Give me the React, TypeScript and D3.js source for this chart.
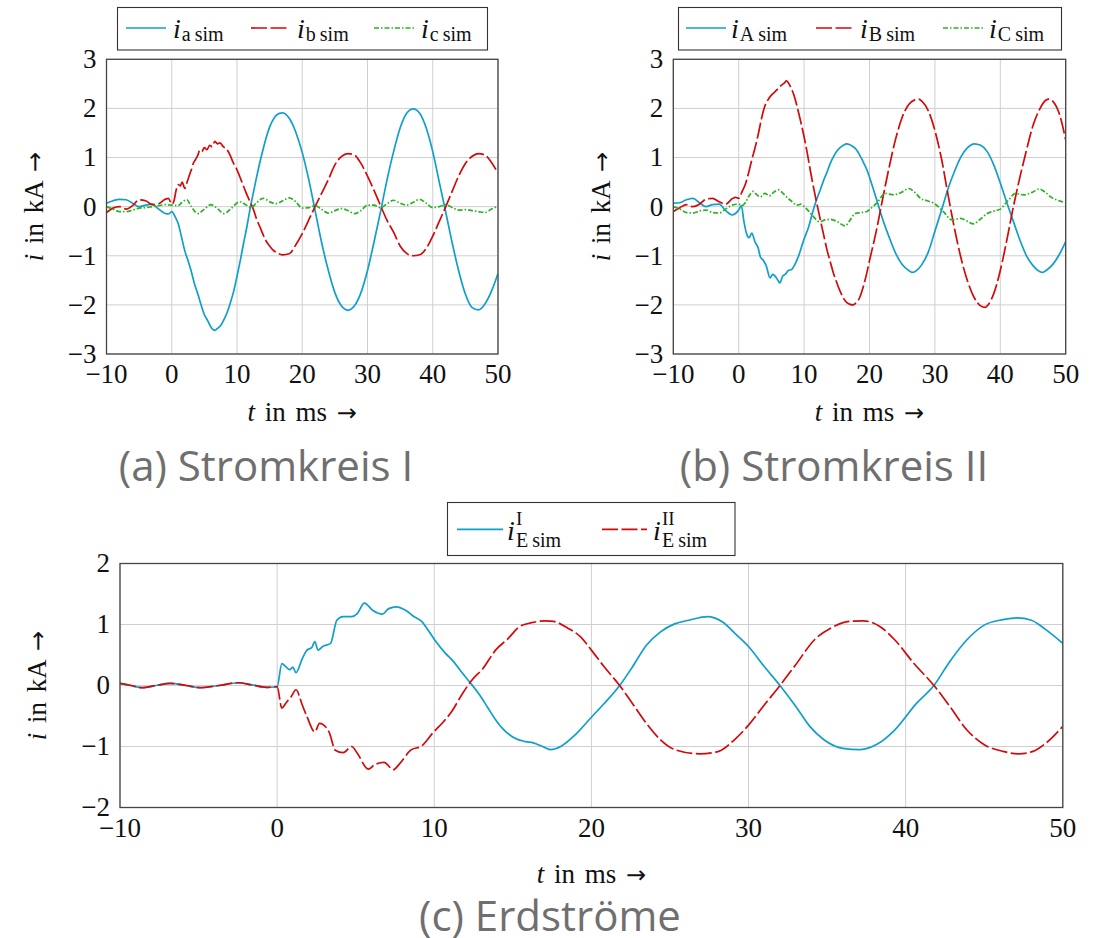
import React from 'react';
import * as d3 from 'd3';

type Pt = [number, number];

// ---------- tick values ----------
const xTicks = [-10, 0, 10, 20, 30, 40, 50];
const yTicksAB = [-3, -2, -1, 0, 1, 2, 3];
const yTicksC = [-2, -1, 0, 1, 2];

// ---------- (a) Stromkreis I ----------
const iaSim: Pt[] = [
  [-10, 0.07], [-9, 0.12], [-8, 0.15], [-7, 0.14], [-6, 0.07], [-5, 0.0], [-4, 0.03], [-3, 0.05],
  [-2, -0.05], [-1, -0.14], [-0.5, -0.15], [0, -0.1], [0.5, -0.2], [1, -0.35], [1.5, -0.62], [2, -0.9],
  [2.5, -1.1], [3, -1.32], [3.5, -1.58], [4, -1.78], [4.5, -2.0], [5, -2.2], [5.5, -2.32], [6, -2.45],
  [6.3, -2.5], [6.6, -2.52], [7, -2.48], [7.5, -2.42], [8, -2.3], [8.5, -2.15], [9, -1.95], [9.5, -1.72],
  [10, -1.42], [10.5, -1.1], [11, -0.75], [11.5, -0.42], [12, -0.05], [12.5, 0.28], [13, 0.6], [13.5, 0.9],
  [14, 1.17], [14.5, 1.42], [15, 1.62], [15.5, 1.76], [16, 1.86], [16.5, 1.9], [17, 1.91], [17.5, 1.88],
  [18, 1.8], [18.5, 1.68], [19, 1.52], [20, 1.1], [21, 0.55], [22, -0.1], [23, -0.75], [24, -1.3],
  [25, -1.75], [26, -2.02], [27, -2.11], [28, -2.02], [29, -1.75], [30, -1.3], [31, -0.72], [32, -0.1],
  [33, 0.55], [34, 1.12], [35, 1.6], [36, 1.9], [37, 1.99], [38, 1.9], [39, 1.6], [40, 1.12],
  [41, 0.5], [42, -0.12], [43, -0.75], [44, -1.32], [45, -1.78], [46, -2.05], [47, -2.1], [48, -1.98],
  [49, -1.72], [50, -1.36],
];
const ibSim: Pt[] = [
  [-10, -0.12], [-9, -0.03], [-8, 0.0], [-7, -0.05], [-6, 0.02], [-5, 0.14], [-4, 0.12], [-3, 0.04],
  [-2, 0.06], [-1, 0.15], [-0.5, 0.17], [0, 0.05], [0.3, 0.1], [0.7, 0.35], [1, 0.45], [1.3, 0.42],
  [1.6, 0.5], [2, 0.37], [2.3, 0.48], [2.6, 0.6], [3, 0.75], [3.3, 0.88], [3.6, 0.95], [4, 1.05],
  [4.3, 1.15], [4.6, 1.12], [5, 1.2], [5.4, 1.16], [5.8, 1.25], [6.2, 1.22], [6.6, 1.33], [7, 1.28],
  [7.4, 1.3], [7.9, 1.22], [8.4, 1.17], [8.9, 1.06], [9.4, 0.9], [9.9, 0.78], [10.4, 0.62], [10.9, 0.45],
  [11.5, 0.25], [12, 0.1], [12.5, -0.05], [13, -0.25], [13.5, -0.41], [14, -0.57], [14.5, -0.71], [15, -0.8],
  [15.5, -0.88], [16, -0.93], [17, -0.98], [18, -0.96], [19, -0.78], [20, -0.55], [21, -0.27], [22, 0.01],
  [23, 0.28], [24, 0.55], [25, 0.85], [26, 1.02], [27, 1.08], [28, 1.05], [29, 0.88], [30, 0.62],
  [31, 0.33], [32, 0.02], [33, -0.28], [34, -0.52], [35, -0.8], [36, -0.95], [37, -1.0], [38, -0.98],
  [39, -0.85], [40, -0.6], [41, -0.3], [42, 0.0], [43, 0.32], [44, 0.63], [45, 0.88], [46, 1.02],
  [47, 1.08], [48, 1.05], [49, 0.9], [50, 0.68],
];
const icSim: Pt[] = [
  [-10, 0.0], [-9, -0.05], [-8, -0.1], [-7, -0.1], [-6, -0.07], [-5, -0.03], [-4, -0.02], [-3, 0.0],
  [-2, 0.02], [-1, 0.04], [0, 0.03], [1, 0.02], [1.5, 0.08], [2.3, 0.14], [3, 0.0], [4, -0.14],
  [5, -0.05], [6, 0.04], [7, -0.04], [8, -0.14], [9, -0.05], [10.4, 0.1], [11.2, 0.05], [12.2, -0.02],
  [13, 0.08], [14, 0.17], [15, 0.1], [16, 0.06], [17, 0.12], [18, 0.18], [19, 0.1], [20, -0.03],
  [21, -0.02], [22, 0.02], [23, -0.06], [24, -0.13], [25, -0.08], [26, -0.04], [27, -0.08], [28, -0.14],
  [29, -0.08], [30, 0.03], [31, 0.03], [32, -0.02], [33, 0.06], [34, 0.13], [35, 0.07], [36, 0.03],
  [37, 0.09], [38, 0.15], [39, 0.07], [40, -0.02], [41, 0.0], [42, 0.04], [43, -0.02], [44, -0.07],
  [45, -0.06], [46, -0.08], [47, -0.1], [48, -0.12], [49, -0.05], [50, 0.01],
];

// ---------- (b) Stromkreis II ----------
const iASim: Pt[] = [
  [-10, 0.07], [-9, 0.08], [-8, 0.14], [-7, 0.17], [-6, 0.08], [-5, 0.0], [-4, 0.04], [-3, 0.05],
  [-2, -0.08], [-1, -0.17], [-0.5, -0.14], [0, -0.07], [0.4, 0.02], [0.8, -0.3], [1.2, -0.55], [1.6, -0.63],
  [2, -0.54], [2.5, -0.72], [3, -0.85], [3.3, -1.02], [3.8, -1.1], [4.2, -1.2], [4.8, -1.45], [5.2, -1.38],
  [5.6, -1.42], [6, -1.5], [6.3, -1.55], [6.7, -1.42], [7.1, -1.38], [7.6, -1.3], [8.1, -1.28], [8.5, -1.2],
  [8.9, -1.09], [9.3, -0.95], [9.6, -0.82], [10, -0.66], [10.7, -0.41], [11.3, -0.12], [11.9, 0.14], [12.5, 0.35],
  [13, 0.54], [13.5, 0.7], [14, 0.88], [14.5, 1.02], [15, 1.13], [15.5, 1.2], [16, 1.25], [16.5, 1.28],
  [17, 1.26], [17.5, 1.22], [18, 1.16], [18.5, 1.05], [19, 0.92], [19.6, 0.75], [20, 0.6], [21, 0.18],
  [22, -0.25], [23, -0.62], [24, -0.95], [25, -1.18], [26, -1.3], [26.5, -1.34], [27, -1.32], [28, -1.18],
  [29, -0.92], [30, -0.5], [31, -0.08], [32, 0.36], [33, 0.72], [34, 1.02], [35, 1.2], [36, 1.28],
  [37, 1.25], [38, 1.12], [39, 0.85], [40, 0.48], [41, 0.08], [42, -0.3], [43, -0.68], [44, -1.0],
  [45, -1.2], [46, -1.32], [46.5, -1.34], [47, -1.3], [48, -1.18], [49, -0.98], [50, -0.71],
];
const iBSim: Pt[] = [
  [-10, -0.1], [-9, -0.02], [-8, 0.04], [-7, 0.0], [-6, 0.05], [-5, 0.15], [-4, 0.17], [-3, 0.1],
  [-2, 0.05], [-1, 0.16], [-0.5, 0.19], [0, 0.17], [0.5, 0.3], [1, 0.45], [1.5, 0.68], [2, 0.95],
  [2.5, 1.2], [3, 1.48], [3.5, 1.8], [4, 2.05], [4.5, 2.18], [5, 2.27], [5.5, 2.33], [6, 2.4],
  [6.5, 2.47], [7, 2.52], [7.3, 2.56], [7.6, 2.52], [8, 2.42], [8.5, 2.25], [9, 2.0], [9.5, 1.72],
  [10, 1.42], [10.5, 1.08], [11, 0.7], [11.5, 0.35], [12, 0.03], [12.5, -0.28], [13, -0.58], [13.5, -0.88],
  [14, -1.12], [14.5, -1.36], [15, -1.55], [15.5, -1.72], [16, -1.86], [16.5, -1.95], [17, -1.99], [17.5, -2.0],
  [18, -1.95], [18.5, -1.85], [19, -1.65], [19.5, -1.4], [20, -1.1], [21, -0.52], [22, 0.15], [23, 0.8],
  [24, 1.38], [25, 1.82], [26, 2.08], [27, 2.18], [27.5, 2.19], [28, 2.15], [29, 1.95], [30, 1.55],
  [31, 0.98], [32, 0.25], [33, -0.45], [34, -1.05], [35, -1.52], [36, -1.85], [37, -2.02], [37.7, -2.05],
  [38, -2.02], [39, -1.77], [40, -1.3], [41, -0.68], [42, 0.0], [43, 0.6], [44, 1.15], [45, 1.65],
  [46, 1.98], [47, 2.17], [47.4, 2.19], [48, 2.15], [49, 1.9], [50, 1.36],
];
const iCSim: Pt[] = [
  [-10, 0.0], [-9, -0.05], [-8, -0.12], [-7, -0.13], [-6, -0.09], [-5, -0.07], [-4, -0.12], [-3, -0.13],
  [-2, -0.05], [-1, 0.03], [0, 0.05], [0.5, 0.02], [1, 0.08], [1.5, 0.2], [2.2, 0.31], [2.7, 0.25],
  [3.3, 0.2], [4, 0.27], [4.7, 0.22], [5.4, 0.3], [6.1, 0.34], [6.7, 0.28], [7.3, 0.2], [8, 0.12],
  [8.9, 0.03], [9.5, 0.05], [10.2, -0.02], [11.2, -0.17], [12.4, -0.31], [13.2, -0.27], [14, -0.26], [15, -0.3],
  [16.3, -0.39], [17, -0.28], [17.8, -0.14], [18.7, -0.12], [19.6, -0.1], [20.5, 0.0], [21.1, 0.07], [22.4, 0.27],
  [23.7, 0.24], [25, 0.3], [26, 0.37], [27, 0.28], [27.8, 0.17], [28.8, 0.12], [29.8, 0.07], [30.5, 0.0],
  [31.3, -0.1], [32.6, -0.27], [33.9, -0.24], [35, -0.3], [35.9, -0.35], [37, -0.25], [38, -0.14], [39, -0.09],
  [40, -0.05], [40.7, 0.05], [41.3, 0.14], [42.3, 0.27], [43.6, 0.24], [45, 0.3], [45.9, 0.36], [47, 0.28],
  [47.7, 0.2], [49, 0.12], [50, 0.08],
];

// ---------- (c) Erdströme ----------
const iEISim: Pt[] = [
  [-10, 0.035], [-9.3, 0.0], [-8.6, -0.035], [-7.7, 0.0], [-6.8, 0.035], [-5.8, 0.0], [-4.9, -0.035], [-3.7, 0.0],
  [-2.5, 0.045], [-1.6, 0.01], [-0.7, -0.03], [0, -0.02], [0.3, 0.36], [0.55, 0.31], [0.8, 0.26], [1.0, 0.3],
  [1.2, 0.21], [1.6, 0.44], [1.9, 0.58], [2.2, 0.62], [2.4, 0.72], [2.6, 0.58], [2.9, 0.64], [3.4, 0.69],
  [3.8, 1.07], [4.2, 1.13], [4.75, 1.13], [5.1, 1.18], [5.55, 1.35], [6.1, 1.23], [6.7, 1.17], [7.1, 1.26],
  [7.6, 1.29], [8.2, 1.23], [8.7, 1.13], [9.2, 1.05], [9.6, 0.91], [10.1, 0.72], [10.7, 0.53], [11.2, 0.4],
  [11.8, 0.2], [12.4, 0.01], [12.9, -0.16], [13.4, -0.36], [13.9, -0.56], [14.4, -0.72], [15.1, -0.86], [15.8, -0.92],
  [16.3, -0.94], [16.9, -1.0], [17.4, -1.05], [18.1, -0.99], [19, -0.8], [20, -0.52], [20.8, -0.3], [21.8, 0.0],
  [22.6, 0.3], [23.5, 0.66], [24.4, 0.88], [25.3, 1.01], [26.2, 1.07], [27.4, 1.13], [28.3, 1.05], [29.2, 0.84],
  [30, 0.64], [31, 0.31], [32, 0.0], [33, -0.34], [33.9, -0.67], [34.8, -0.89], [36, -1.03], [37.1, -1.05],
  [38.2, -0.96], [39.3, -0.73], [40.7, -0.29], [41.8, 0.0], [42.8, 0.39], [43.9, 0.75], [45, 0.99], [46.2, 1.08],
  [47.1, 1.11], [48, 1.07], [48.9, 0.92], [50, 0.69],
];
const iEIISim: Pt[] = [
  [-10, 0.035], [-9.3, 0.0], [-8.6, -0.035], [-7.7, 0.0], [-6.8, 0.035], [-5.8, 0.0], [-4.9, -0.035], [-3.7, 0.0],
  [-2.5, 0.045], [-1.6, 0.01], [-0.7, -0.03], [0, -0.02], [0.3, -0.37], [0.55, -0.29], [0.9, -0.18], [1.2, -0.07],
  [1.6, -0.32], [1.9, -0.51], [2.4, -0.76], [2.7, -0.62], [3.3, -0.76], [3.7, -1.06], [4.2, -1.1], [4.75, -1.0],
  [5.1, -1.11], [5.8, -1.37], [6.2, -1.3], [6.8, -1.26], [7.4, -1.38], [7.8, -1.28], [8.5, -1.06], [9.2, -0.99],
  [9.9, -0.78], [10.6, -0.59], [11.1, -0.43], [11.8, -0.13], [12.4, 0.09], [13.1, 0.28], [13.9, 0.58], [14.7, 0.77],
  [15.4, 0.96], [16.2, 1.03], [17.1, 1.06], [17.6, 1.05], [18.5, 0.94], [19.3, 0.8], [20, 0.58], [20.8, 0.31],
  [21.8, 0.0], [22.6, -0.29], [23.5, -0.62], [24.4, -0.89], [25.3, -1.05], [26.9, -1.12], [28.1, -1.08], [29.1, -0.89],
  [30, -0.65], [31, -0.32], [32, 0.0], [33, 0.34], [34.2, 0.75], [35.3, 0.95], [36.4, 1.05], [37.3, 1.06],
  [38.4, 0.96], [39.3, 0.75], [40.5, 0.37], [41.8, 0.0], [42.8, -0.34], [43.9, -0.73], [45, -0.97], [46.2, -1.08],
  [47.2, -1.12], [48.1, -1.08], [48.9, -0.95], [50, -0.67],
];

// ---------- styles ----------
const BLUE = '#0f9fcc';
const RED = '#d20a0a';
const GREEN = '#27b51f';
const DASHED = '16 3.5';
const DASHDOT = '5 2 1.5 2';
const SERIF = '"Liberation Serif", "DejaVu Serif", serif';
const ARROW_FONT = '"DejaVu Sans", sans-serif';
const SANS = '"Open Sans", "Noto Sans", sans-serif';
const CAPTION = '#6f6f6f';

type Series = { data: Pt[]; color: string; dash?: string };
type Box = { left: number; right: number; top: number; bottom: number };

function Panel({ id, box, yDomain, yTicks, series, yTitleX, xTitleY }: {
  id: string; box: Box; yDomain: [number, number]; yTicks: number[]; series: Series[];
  yTitleX: number; xTitleY: number;
}) {
  const x = d3.scaleLinear().domain([-10, 50]).range([box.left, box.right]);
  const y = d3.scaleLinear().domain(yDomain).range([box.bottom, box.top]);
  const line = d3.line<Pt>().x(d => x(d[0])).y(d => y(d[1])).curve(d3.curveMonotoneX);
  const fmt = (v: number) => (v < 0 ? '\u2212' + Math.abs(v) : String(v));
  return (
    <g>
      <clipPath id={id}>
        <rect x={box.left} y={box.top} width={box.right - box.left} height={box.bottom - box.top} />
      </clipPath>
      {xTicks.map(t => (
        <line key={'gx' + t} x1={x(t)} x2={x(t)} y1={box.top} y2={box.bottom} stroke="#cfcfcf" strokeWidth={1} />
      ))}
      {yTicks.map(v => (
        <line key={'gy' + v} x1={box.left} x2={box.right} y1={y(v)} y2={y(v)} stroke="#cfcfcf" strokeWidth={1} />
      ))}
      <g clipPath={`url(#${id})`}>
        {series.map((s, i) => (
          <path key={i} d={line(s.data) || ''} fill="none" stroke={s.color} strokeWidth={1.7}
            strokeDasharray={s.dash} strokeLinejoin="round" />
        ))}
      </g>
      <rect x={box.left} y={box.top} width={box.right - box.left} height={box.bottom - box.top}
        fill="none" stroke="#454545" strokeWidth={1.3} />
      {xTicks.map(t => (
        <text key={'tx' + t} x={x(t)} y={box.bottom + 29} textAnchor="middle" fontFamily={SERIF} fontSize={27}
          fill="#111">{fmt(t)}</text>
      ))}
      {yTicks.map(v => (
        <text key={'ty' + v} x={box.left - 10} y={y(v)} dy="0.33em" textAnchor="end" fontFamily={SERIF}
          fontSize={27} fill="#111">{fmt(v)}</text>
      ))}
      <text x={(box.left + box.right) / 2} y={xTitleY} textAnchor="middle" fontFamily={SERIF} fontSize={27}
        fill="#111" wordSpacing={3}>
        <tspan fontStyle="italic">t</tspan> in ms <tspan fontFamily={ARROW_FONT} fontSize={24}>→</tspan>
      </text>
      <text transform={`translate(${yTitleX},${(box.top + box.bottom) / 2}) rotate(-90)`} textAnchor="middle"
        fontFamily={SERIF} fontSize={27} fill="#111" wordSpacing={3}>
        <tspan fontStyle="italic">i</tspan> in kA <tspan fontFamily={ARROW_FONT} fontSize={24}>→</tspan>
      </text>
    </g>
  );
}

function LegendBox({ x, y, w, h, children }: { x: number; y: number; w: number; h: number; children: React.ReactNode }) {
  return (
    <g>
      <rect x={x} y={y} width={w} height={h} fill="#fff" stroke="#333" strokeWidth={1.1} />
      {children}
    </g>
  );
}

function Entry({ x1, x2, ly, color, dash, tx, main, sub }: {
  x1: number; x2: number; ly: number; color: string; dash?: string; tx: number; main: string; sub: string;
}) {
  return (
    <g>
      <line x1={x1} x2={x2} y1={ly} y2={ly} stroke={color} strokeWidth={1.7} strokeDasharray={dash} />
      <text x={tx} y={ly + 10} fontFamily={SERIF} fontSize={28} fill="#111">
        <tspan fontStyle="italic">{main}</tspan>
        <tspan fontSize={20} dy={3} dx={1}>{sub}</tspan>
      </text>
    </g>
  );
}

function EntrySupSub({ x1, x2, ly, color, dash, tx, sup }: {
  x1: number; x2: number; ly: number; color: string; dash?: string; tx: number; sup: string;
}) {
  return (
    <g>
      <line x1={x1} x2={x2} y1={ly} y2={ly} stroke={color} strokeWidth={1.7} strokeDasharray={dash} />
      <text x={tx} y={ly + 11} fontFamily={SERIF} fontSize={28} fontStyle="italic" fill="#111">i</text>
      <text x={tx + 9} y={ly - 4} fontFamily={SERIF} fontSize={19} fill="#111">{sup}</text>
      <text x={tx + 9} y={ly + 18} fontFamily={SERIF} fontSize={20} fill="#111">E{'\u2009'}sim</text>
    </g>
  );
}

export default function App() {
  const boxA: Box = { left: 106.5, right: 498, top: 59.3, bottom: 354 };
  const boxB: Box = { left: 673.3, right: 1065.7, top: 59.3, bottom: 354 };
  const boxC: Box = { left: 120, right: 1062.8, top: 563.5, bottom: 807.5 };
  return (
    <svg width={1099} height={938} style={{ position: 'absolute', left: 0, top: 0, background: '#fff' }}>
      <rect x={0} y={0} width={1099} height={938} fill="#fff" />
      <Panel id="clipA" box={boxA} yDomain={[-3, 3]} yTicks={yTicksAB} yTitleX={43} xTitleY={421}
        series={[
          { data: iaSim, color: BLUE },
          { data: ibSim, color: RED, dash: DASHED },
          { data: icSim, color: GREEN, dash: DASHDOT },
        ]} />
      <Panel id="clipB" box={boxB} yDomain={[-3, 3]} yTicks={yTicksAB} yTitleX={610} xTitleY={421}
        series={[
          { data: iASim, color: BLUE },
          { data: iBSim, color: RED, dash: DASHED },
          { data: iCSim, color: GREEN, dash: DASHDOT },
        ]} />
      <Panel id="clipC" box={boxC} yDomain={[-2, 2]} yTicks={yTicksC} yTitleX={46} xTitleY={883}
        series={[
          { data: iEISim, color: BLUE },
          { data: iEIISim, color: RED, dash: DASHED },
        ]} />

      <LegendBox x={117.5} y={7.5} w={370} h={42.5}>
        <Entry x1={126} x2={166} ly={28} color={BLUE} tx={173} main="i" sub={'a\u2009sim'} />
        <Entry x1={251} x2={290} ly={28} color={RED} dash={DASHED} tx={297} main="i" sub={'b\u2009sim'} />
        <Entry x1={374} x2={415} ly={28} color={GREEN} dash={DASHDOT} tx={421} main="i" sub={'c\u2009sim'} />
      </LegendBox>
      <LegendBox x={678.5} y={7.5} w={383} h={42.5}>
        <Entry x1={686} x2={726} ly={28} color={BLUE} tx={731} main="i" sub={'A\u2009sim'} />
        <Entry x1={816} x2={855} ly={28} color={RED} dash={DASHED} tx={860} main="i" sub={'B\u2009sim'} />
        <Entry x1={943} x2={983} ly={28} color={GREEN} dash={DASHDOT} tx={989} main="i" sub={'C\u2009sim'} />
      </LegendBox>
      <LegendBox x={447.5} y={502.5} w={287.5} h={53}>
        <EntrySupSub x1={457} x2={503} ly={529.3} color={BLUE} tx={507} sup="I" />
        <EntrySupSub x1={602} x2={647} ly={529.3} color={RED} dash={DASHED} tx={653} sup="II" />
      </LegendBox>

      <text x={266} y={481} textAnchor="middle" fontFamily={SANS} fontSize={42} fill={CAPTION}>(a) Stromkreis I</text>
      <text x={834} y={481} textAnchor="middle" fontFamily={SANS} fontSize={42} fill={CAPTION}>(b) Stromkreis II</text>
      <text x={550} y={931} textAnchor="middle" fontFamily={SANS} fontSize={42} fill={CAPTION}>(c) Erdströme</text>
    </svg>
  );
}
